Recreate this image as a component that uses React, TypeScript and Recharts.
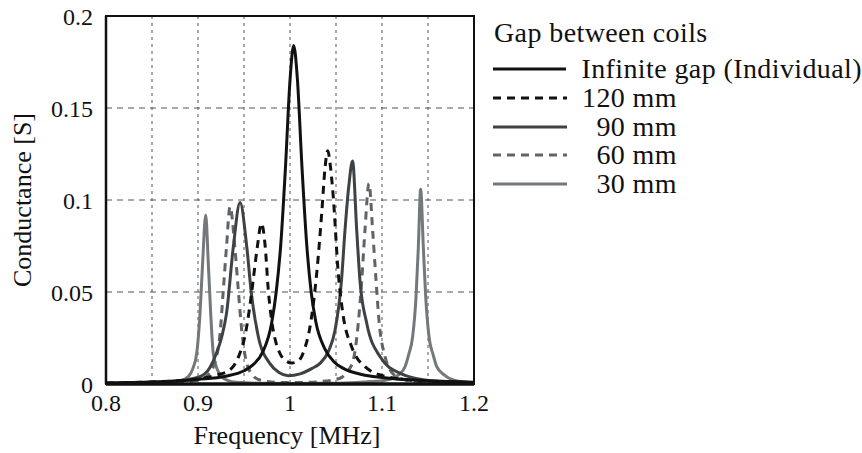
import React from "react";
import {
  LineChart,
  Line,
  XAxis,
  YAxis,
  CartesianGrid,
  ReferenceArea,
  Legend,
} from "recharts";

const FONT = '"Liberation Serif", "Times New Roman", serif';

// оси
const xTicks = [0.8, 0.85, 0.9, 0.95, 1, 1.05, 1.1, 1.15, 1.2];
const xShown = [0.8, 0.9, 1, 1.1, 1.2];
const yTicks = [0, 0.05, 0.1, 0.15, 0.2];

// Infinite gap (Individual)
const infFreq = [0.8, 0.85, 0.9, 0.93, 0.95, 0.96, 0.97, 0.98, 0.985, 0.99, 0.995, 1.0, 1.004, 1.008, 1.013, 1.018, 1.023, 1.028, 1.038, 1.048, 1.058, 1.078, 1.1, 1.15, 1.2];
const infVals = [0.0006, 0.0011, 0.0025, 0.0042, 0.0072, 0.0105, 0.017, 0.033, 0.05, 0.076, 0.117, 0.165, 0.184, 0.166, 0.118, 0.077, 0.05, 0.034, 0.019, 0.012, 0.0085, 0.0052, 0.0035, 0.0017, 0.001];

// 120 mm
const f120 = [0.8, 0.85, 0.9, 0.92, 0.935, 0.945, 0.951, 0.956, 0.96, 0.9645, 0.969, 0.973, 0.9764, 0.98, 0.985, 0.989, 0.995, 1.002, 1.008, 1.011, 1.0165, 1.0217, 1.029, 1.0345, 1.038, 1.041, 1.044, 1.047, 1.0525, 1.058, 1.067, 1.0815, 1.105, 1.15, 1.2];
const v120 = [0.0005, 0.0011, 0.0028, 0.0048, 0.0078, 0.016, 0.026, 0.041, 0.0565, 0.0746, 0.0873, 0.075, 0.051, 0.0348, 0.022, 0.0167, 0.0128, 0.0114, 0.0122, 0.0135, 0.02, 0.031, 0.06, 0.093, 0.117, 0.1268, 0.118, 0.1018, 0.06, 0.0366, 0.0203, 0.0094, 0.004, 0.0015, 0.0008];

// 90 mm
const f90 = [0.8, 0.85, 0.88, 0.902, 0.913, 0.92, 0.926, 0.931, 0.9384, 0.9457, 0.953, 0.958, 0.9656, 0.978, 0.988, 0.998, 1.011, 1.024, 1.0326, 1.042, 1.049, 1.056, 1.0598, 1.064, 1.068, 1.0725, 1.076, 1.0834, 1.0978, 1.1196, 1.155, 1.2];
const v90 = [0.0004, 0.0009, 0.0018, 0.004, 0.009, 0.0167, 0.026, 0.0384, 0.0746, 0.0987, 0.0746, 0.0493, 0.0257, 0.0112, 0.0062, 0.0045, 0.0055, 0.0085, 0.0112, 0.018, 0.0293, 0.0565, 0.0837, 0.108, 0.1212, 0.0837, 0.0565, 0.033, 0.0149, 0.0058, 0.0017, 0.0007];

// 60 mm
const f60 = [0.8, 0.85, 0.88, 0.902, 0.91, 0.9166, 0.924, 0.9275, 0.931, 0.9348, 0.94, 0.9438, 0.9475, 0.953, 0.96, 0.9674, 0.989, 1.01, 1.0326, 1.0543, 1.062, 1.0688, 1.0742, 1.078, 1.0815, 1.0859, 1.0898, 1.0935, 1.097, 1.1033, 1.109, 1.116, 1.1377, 1.2];
const v60 = [0.0002, 0.0005, 0.001, 0.0022, 0.0045, 0.0094, 0.0275, 0.051, 0.0746, 0.0964, 0.0746, 0.051, 0.0293, 0.0112, 0.0045, 0.0022, 0.0008, 0.0008, 0.0013, 0.0031, 0.0065, 0.013, 0.033, 0.0565, 0.0837, 0.109, 0.0837, 0.0565, 0.033, 0.0149, 0.0075, 0.004, 0.0012, 0.0003];

// 30 mm
const f30 = [0.8, 0.85, 0.87, 0.88, 0.8895, 0.8945, 0.8986, 0.9022, 0.905, 0.9084, 0.9112, 0.9138, 0.9166, 0.9205, 0.9257, 0.932, 0.942, 0.97, 1.0, 1.03, 1.06, 1.085, 1.1, 1.1087, 1.118, 1.125, 1.129, 1.1333, 1.137, 1.1395, 1.142, 1.1449, 1.1475, 1.1511, 1.1555, 1.1595, 1.1675, 1.1775, 1.2];
const v30 = [0.0003, 0.0007, 0.0011, 0.0016, 0.004, 0.0085, 0.0167, 0.0384, 0.0656, 0.0918, 0.0656, 0.0384, 0.0167, 0.0085, 0.004, 0.002, 0.0009, 0.0004, 0.0003, 0.0004, 0.0006, 0.0012, 0.0018, 0.0025, 0.005, 0.0094, 0.016, 0.0257, 0.0475, 0.0746, 0.1058, 0.0746, 0.0475, 0.0257, 0.016, 0.0094, 0.005, 0.0022, 0.0006];

const toPoints = (f: number[], v: number[]) => f.map((x, i) => ({ f: x, g: v[i] }));

const series = [
  { key: "inf", label: "Infinite gap (Individual)", data: toPoints(infFreq, infVals), color: "#111111", dash: undefined },
  { key: "g120", label: "120 mm", data: toPoints(f120, v120), color: "#111111", dash: "8 6" },
  { key: "g90", label: "\u200790 mm", data: toPoints(f90, v90), color: "#3e4244", dash: undefined },
  { key: "g60", label: "\u200760 mm", data: toPoints(f60, v60), color: "#606466", dash: "8 6" },
  { key: "g30", label: "\u200730 mm", data: toPoints(f30, v30), color: "#74787a", dash: undefined },
];

const renderLegend = () => (
  <div style={{ fontFamily: FONT, fontSize: 28, letterSpacing: 0.4, color: "#111", whiteSpace: "pre" }}>
    <div style={{ height: 29, lineHeight: "29px", marginBottom: 8, marginLeft: 1 }}>
      Gap between coils
    </div>
    {series.map((s) => (
      <div key={s.key} style={{ display: "flex", alignItems: "center", height: 28.7 }}>
        <svg width={74} height={6}>
          <line x1={0} y1={3} x2={74} y2={3} stroke={s.color} strokeWidth={3} strokeDasharray={s.dash} />
        </svg>
        <span style={{ marginLeft: 15 }}>{s.label}</span>
      </div>
    ))}
  </div>
);

const YTitle = ({ viewBox }: any) => {
  const cx = 22;
  const cy = viewBox.y + viewBox.height / 2;
  return (
    <text x={cx} y={cy} transform={`rotate(-90 ${cx} ${cy})`} textAnchor="middle" dominantBaseline="central"
      fontFamily={FONT} fontSize={26} fill="#111">
      Conductance [S]
    </text>
  );
};

const XTitle = ({ viewBox }: any) => (
  <text x={viewBox.x + viewBox.width / 2 - 3} y={444} textAnchor="middle" fontFamily={FONT} fontSize={26} fill="#111">
    Frequency [MHz]
  </text>
);

export default function App() {
  return (
    <div style={{ position: "absolute", left: 0, top: 0, width: 862, height: 453, background: "#fff" }}>
      <LineChart width={862} height={453} margin={{ top: 16, right: 388, bottom: 39, left: 56 }}>
        {/* сетка */}
        <CartesianGrid vertical={false} stroke="#555" strokeDasharray="6 5" />
        <CartesianGrid horizontal={false} stroke="#555" strokeDasharray="3 4" />
        <XAxis
          type="number"
          dataKey="f"
          domain={[0.8, 1.2]}
          ticks={xTicks}
          allowDataOverflow
          tickFormatter={(v: number) => (xShown.some((s) => Math.abs(s - v) < 1e-6) ? String(v) : "")}
          tickLine={false}
          tickSize={0}
          tickMargin={10}
          height={30}
          axisLine={{ stroke: "#111", strokeWidth: 3.5 }}
          tick={{ fill: "#111", fontSize: 24, fontFamily: FONT }}
          label={<XTitle />}
        />
        {/* короткие засечки внутрь по рамке */}
        <XAxis
          xAxisId="top"
          orientation="top"
          type="number"
          dataKey="f"
          domain={[0.8, 1.2]}
          ticks={xTicks}
          mirror
          tick={false}
          axisLine={false}
          tickSize={6}
          tickLine={{ stroke: "#333", strokeWidth: 1.2 }}
        />
        <YAxis
          type="number"
          domain={[0, 0.2]}
          ticks={yTicks}
          allowDataOverflow
          tickLine={false}
          tickSize={0}
          tickMargin={13}
          width={50}
          axisLine={{ stroke: "#111", strokeWidth: 2.5 }}
          tick={{ fill: "#111", fontSize: 24, fontFamily: FONT }}
          label={<YTitle />}
        />
        <YAxis
          yAxisId="right"
          orientation="right"
          type="number"
          domain={[0, 0.2]}
          ticks={yTicks}
          mirror
          tick={false}
          axisLine={false}
          tickSize={8}
          tickLine={{ stroke: "#333", strokeWidth: 1.2 }}
        />
        <ReferenceArea x1={0.8} x2={1.2} y1={0} y2={0.2} fill="none" stroke="#111" strokeWidth={2} />
        <Legend
          layout="horizontal"
          verticalAlign="middle"
          align="center"
          content={renderLegend}
          wrapperStyle={{ left: 493, top: 18, width: 369 }}
        />
        {/* линии */}
        {[...series].reverse().map((s) => (
          <Line
            key={s.key}
            data={s.data}
            dataKey="g"
            name={s.label}
            type="monotone"
            stroke={s.color}
            strokeWidth={3}
            strokeDasharray={s.dash}
            dot={false}
            activeDot={false}
            isAnimationActive={false}
          />
        ))}
      </LineChart>
    </div>
  );
}
